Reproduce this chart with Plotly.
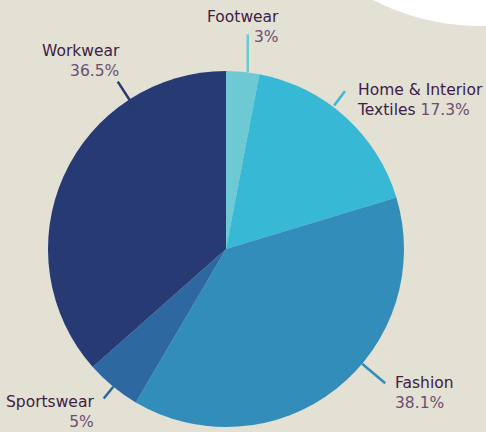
import math
import plotly.graph_objects as go

# Market share by textile segment
segments = ["Footwear", "Home & Interior Textiles", "Fashion", "Sportswear", "Workwear"]
shares = [3, 17.3, 38.1, 5, 36.5]
share_labels = ["3%", "17.3%", "38.1%", "5%", "36.5%"]
slice_colors = ["#6dcad4", "#37b9d6", "#328dbb", "#2d68a1", "#283a73"]

W, H = 486, 432
CX, CY, R = 226, 249, 178          # pie centre and radius in pixels
BG = "#e3e0d4"
NAME_COLOR = "#3d2146"
PCT_COLOR = "#6b4f72"

# label placement: (position within slice, leader inner/outer radius as a
# fraction of R, vertical leader, text offset from leader end, anchor)
placement = [
    (0.65, 1.00, 38, True, (33, -7), "right"),
    (0.42, 1.01, 1.11, False, (10, 8.5), "left"),
    (0.415, 1.00, 1.17, False, (8, 9.5), "left"),
    (0.49, 1.00, 1.085, False, (-8, 13.5), "right"),
    (0.75, 0.92, 1.12, False, (4, -21), "right"),
]


def px(x):
    return x / W


def py(y):
    return 1 - y / H


fig = go.Figure(go.Pie(
    labels=segments,
    values=shares,
    sort=False,
    direction="clockwise",
    rotation=0,
    textinfo="none",
    hoverinfo="label+percent",
    marker=dict(colors=slice_colors, line=dict(width=0)),
    domain=dict(x=[px(CX - R), px(CX + R)], y=[py(CY + R), py(CY - R)]),
    showlegend=False,
))

shapes = [
    # decorative white disc in the top-right corner
    dict(type="circle", xref="paper", yref="paper",
         x0=px(480 - 233), x1=px(480 + 233), y0=py(-207 + 233), y1=py(-207 - 233),
         fillcolor="white", line=dict(width=0), layer="below"),
]
annotations = []

total = sum(shares)
start = 0.0
for name, val, pct, col, (frac, r_in, r_out, vertical, (dx, dy), anchor) in zip(
        segments, shares, share_labels, slice_colors, placement):
    span = val / total * 360
    theta = math.radians(start + frac * span)
    start += span
    sx, sy = CX + R * r_in * math.sin(theta), CY - R * r_in * math.cos(theta)
    if vertical:
        ex, ey = sx, sy - r_out
    else:
        ex, ey = CX + R * r_out * math.sin(theta), CY - R * r_out * math.cos(theta)
    shapes.append(dict(type="line", xref="paper", yref="paper",
                       x0=px(sx), y0=py(sy), x1=px(ex), y1=py(ey),
                       line=dict(color=col, width=2.5)))
    if name.startswith("Home"):
        text = (f"<span style='color:{NAME_COLOR}'>Home &amp; Interior</span><br>"
                f"<span style='color:{NAME_COLOR}'>Textiles</span> "
                f"<span style='color:{PCT_COLOR}'>{pct}</span>")
    else:
        text = (f"<span style='color:{NAME_COLOR}'>{name}</span><br>"
                f"<span style='color:{PCT_COLOR}'>{pct}</span>")
    annotations.append(dict(
        text=text, xref="paper", yref="paper",
        x=px(ex + dx), y=py(ey + dy), xanchor=anchor, yanchor="middle",
        align=anchor, showarrow=False,
        font=dict(family="DejaVu Sans", size=15.5, color=NAME_COLOR),
    ))

fig.update_layout(
    width=W, height=H,
    margin=dict(l=0, r=0, t=0, b=0),
    paper_bgcolor=BG,
    plot_bgcolor=BG,
    shapes=shapes,
    annotations=annotations,
)

fig.write_html("out.html")
